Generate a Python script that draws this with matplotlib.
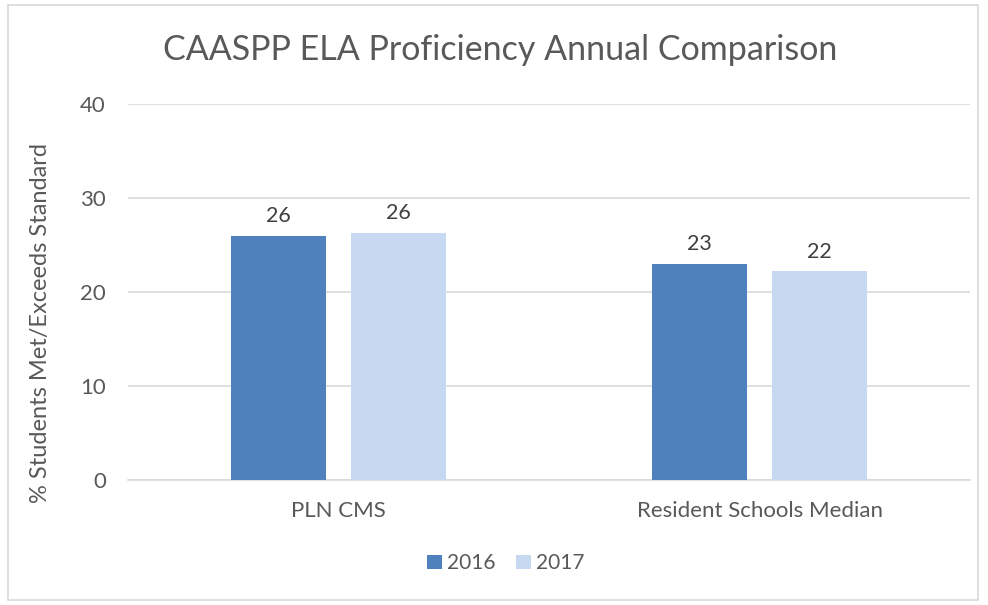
#%%
# CAASPP ELA proficiency, two-year comparison
#
import numpy as np
import matplotlib as mpl
import matplotlib.pyplot as plt
from matplotlib.patches import Rectangle
mpl.rcParams['font.family'] = ['Lato', 'DejaVu Sans']

categories = ['PLN CMS', 'Resident Schools Median']
years = ['2016', '2017']
values_2016 = [26.0, 23.0]
values_2017 = [26.3, 22.2]
labels_2016 = ['26', '23']
labels_2017 = ['26', '22']

colors = ['#4F81BD', '#C6D9F0']
text_grey = '#595959'
grid_grey = '#D9D9D9'

fig = plt.figure(figsize=(9.88, 6.05), dpi=100)
ax = fig.add_axes([0.1296, 0.2066, 0.8522, 0.6214])

# outer chart border
fig.add_artist(Rectangle((0.008, 0.008), 0.982, 0.984, transform=fig.transFigure,
                         fill=False, edgecolor=grid_grey, linewidth=1.2))

x = np.arange(len(categories))
width = 0.225
offset = 0.1425
b1 = ax.bar(x - offset, values_2016, width, color=colors[0], label=years[0], zorder=3)
b2 = ax.bar(x + offset, values_2017, width, color=colors[1], label=years[1], zorder=3)

for bars, labs in [(b1, labels_2016), (b2, labels_2017)]:
    for rect, lab in zip(bars, labs):
        ax.annotate(lab, (rect.get_x() + rect.get_width() / 2, rect.get_height()),
                    xytext=(0, 7), textcoords='offset points',
                    ha='center', va='bottom', fontsize=15.5, color='#404040')

ax.set_xlim(-0.5, 1.5)
ax.set_ylim(0, 40)
ax.set_yticks([0, 10, 20, 30, 40])
ax.set_xticks(x)
ax.set_xticklabels(categories)
ax.yaxis.grid(True, color=grid_grey, linewidth=1.2, zorder=0)
ax.set_axisbelow(True)
for s in ['top', 'right', 'left']:
    ax.spines[s].set_visible(False)
ax.spines['bottom'].set_color(grid_grey)
ax.spines['bottom'].set_linewidth(1.2)
ax.tick_params(axis='both', length=0, colors=text_grey, labelsize=16)
ax.tick_params(axis='y', pad=16)
ax.tick_params(axis='x', pad=15)

ax.set_ylabel('% Students Met/Exceeds Standard', fontsize=17, color=text_grey)
ax.yaxis.set_label_coords(-0.092, 0.418)
fig.text(0.506, 0.918, 'CAASPP ELA Proficiency Annual Comparison',
         ha='center', va='center', fontsize=24.5, color=text_grey)

fig.legend(handles=[b1, b2], labels=years, loc='center', bbox_to_anchor=(0.512, 0.069),
           ncol=2, frameon=False, fontsize=15, handlelength=0.7, handleheight=0.7,
           columnspacing=1.0, handletextpad=0.25, labelcolor=text_grey)

fig.savefig('out.png', dpi=100)
